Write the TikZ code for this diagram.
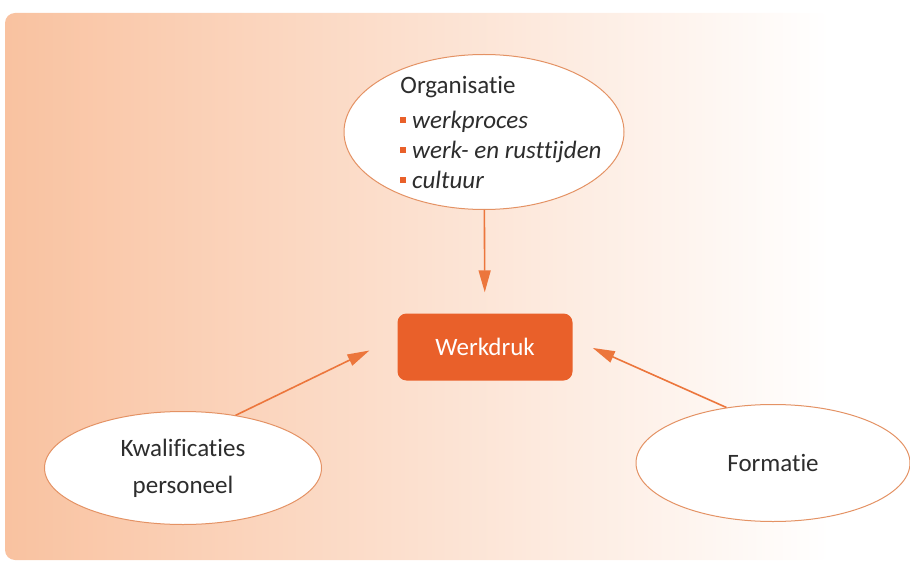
\documentclass[tikz,border=0pt]{standalone}
\usepackage{fontspec}
\setmainfont{Carlito}[Ligatures={TeX,NoCommon}]
\usepackage{tikz}
\usetikzlibrary{arrows.meta,shapes.geometric,positioning}
\definecolor{wdorange}{RGB}{233,96,42}
\definecolor{lijn}{RGB}{236,118,60}
\definecolor{rand}{RGB}{228,146,100}
\definecolor{perzik}{RGB}{249,194,160}
\definecolor{tekst}{RGB}{45,45,45}
\newcommand{\opsom}{\textcolor{wdorange}{\rule[0.22em]{0.22em}{0.22em}}\hspace{0.25em}}

\begin{document}
\begin{tikzpicture}[x=1pt, y=1pt,
    font=\fontsize{25}{30}\selectfont,
    bubble/.style={ellipse, draw=rand, line width=1pt, fill=white, inner sep=0pt, text=tekst, align=center},
    box/.style={rectangle, rounded corners=9pt, fill=wdorange, text=white, minimum width=175pt, minimum height=67pt},
    flow/.style={-{Triangle[length=22pt,width=12pt]}, draw=lijn, line width=1.6pt}]
  \useasboundingbox (0,0) rectangle (910,566);
  \shade[left color=perzik, right color=white, rounded corners=10pt] (5,6) rectangle (830,553);
  \node[bubble, minimum width=280pt, minimum height=155pt] (org) at (484,434) {};
  \node[align=left, text=tekst] (orgtekst) at ([xshift=17pt]org.center) {Organisatie\\[5pt]
    \opsom\textit{werkproces}\\
    \opsom\textit{werk- en rusttijden}\\
    \opsom\textit{cultuur}};
  \node[box] (werk) at (485,219) {Werkdruk};
  \node[bubble, minimum width=277pt, minimum height=113pt] (kwal) at (183,98) {Kwalificaties\\[7pt]personeel};
  \node[bubble, minimum width=274pt, minimum height=117pt] (form) at (773,103) {Formatie};
  \draw[flow, shorten >=21pt] (org) -- (werk);
  \draw[flow, shorten >=31pt] (kwal.45) -- ([yshift=10pt]werk.west);
  \draw[flow, shorten >=22pt] (form.130) -- ([yshift=8pt]werk.east);
\end{tikzpicture}
\end{document}
